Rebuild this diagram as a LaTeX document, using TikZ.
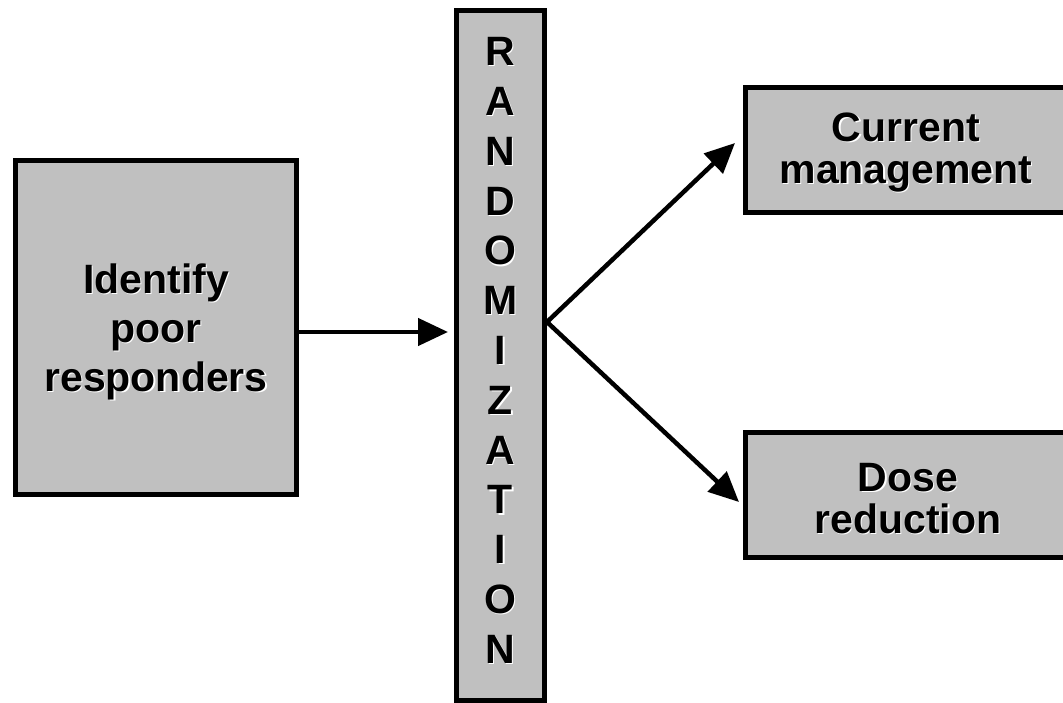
\documentclass[tikz,border=0pt]{standalone}
\usepackage{fontspec}
\setmainfont{Liberation Sans}
\usetikzlibrary{arrows.meta}
\definecolor{boxgray}{HTML}{C0C0C0}
\newcommand\shd[1]{\makebox[0pt][l]{\hspace{1.2pt}\raisebox{-1.2pt}{\color{white}#1}}#1}
\tikzset{
  graybox/.style={draw=black, line width=5pt, fill=boxgray, inner sep=0pt,
    align=center, font=\bfseries\fontsize{41}{49}\selectfont},
  conn/.style={line width=4.5pt, -{Triangle[length=30pt,width=27pt]}}
}
\begin{document}
\begin{tikzpicture}[x=1pt,y=-1pt]
\useasboundingbox (0,0) rectangle (1063,703);
\clip (0,0) rectangle (1063,703);
\node[graybox, minimum width=281pt, minimum height=334pt] (id) at (156,327.5) {};
\node[align=center, inner sep=0pt, font=\bfseries\fontsize{41}{49}\selectfont] (idtext) at (156,332)
  {\shd{Identify}\\\shd{poor}\\\shd{responders}};
\node[graybox, minimum width=88pt, minimum height=690pt] (bar) at (500.5,355.5) {};
\node[align=center, inner sep=0pt, font=\bfseries\fontsize{41}{49.8}\selectfont] (letters) at (500.5,351)
  {\shd{R}\\\shd{A}\\\shd{N}\\\shd{D}\\\shd{O}\\\shd{M}\\\shd{I}\\\shd{Z}\\\shd{A}\\\shd{T}\\\shd{I}\\\shd{O}\\\shd{N}};
\node[graybox, minimum width=324pt, minimum height=125pt] (cm) at (907.5,150) {};
\node[align=center, inner sep=0pt, font=\bfseries\fontsize{41}{42}\selectfont] (cmtext) at (906,153)
  {\shd{Current}\\\shd{management}};
\node[graybox, minimum width=324pt, minimum height=125pt] (dr) at (907.5,495) {};
\node[align=center, inner sep=0pt, font=\bfseries\fontsize{41}{42}\selectfont] (drtext) at (908,499)
  {\shd{Dose}\\\shd{reduction}};
\coordinate (fork) at (547,322);
\coordinate (tipA) at (448,332);
\coordinate (tipB) at (735,143);
\coordinate (tipC) at (739,502);
\draw[conn] (id.east |- tipA) -- (tipA);
\draw[conn] (fork) -- (tipB);
\draw[conn] (fork) -- (tipC);
\end{tikzpicture}
\end{document}
